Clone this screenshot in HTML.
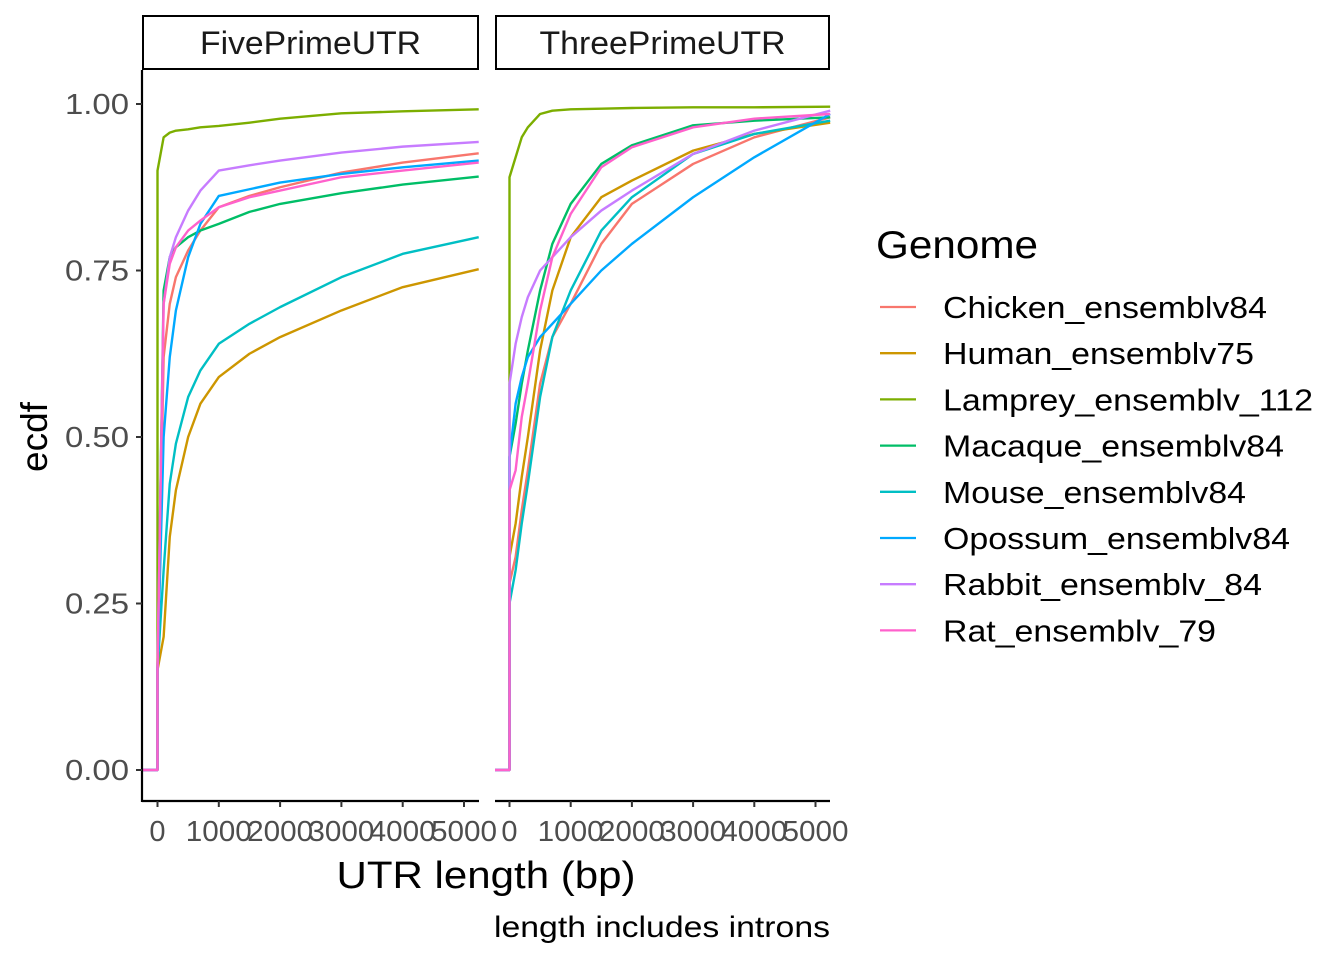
<!DOCTYPE html>
<html><head><meta charset="utf-8"><style>
body{margin:0;background:#fff}
svg text{font-family:"Liberation Sans",Arial,sans-serif}
</style></head><body>
<svg id="chart" width="1344" height="960" viewBox="0 0 1344 960" xmlns="http://www.w3.org/2000/svg"></svg>
<script>
const genomes=["Chicken_ensemblv84","Human_ensemblv75","Lamprey_ensemblv_112","Macaque_ensemblv84","Mouse_ensemblv84","Opossum_ensemblv84","Rabbit_ensemblv_84","Rat_ensemblv_79"];
const colors=["#F8766D","#CD9600","#7CAE00","#00BE67","#00BFC4","#00A9FF","#C77CFF","#FF61CC"];
const legendWidths=[324,311,370,341,303,347,319,273];
const xGrid=[0,100,200,300,500,700,1000,1500,2000,3000,4000,5240];
const xTicks=[0,1000,2000,3000,4000,5000];
const yTicks=[0,0.25,0.5,0.75,1];
const yTickLabels=["0.00","0.25","0.50","0.75","1.00"];
const fiveChicken=[0.15,0.62,0.70,0.74,0.78,0.81,0.845,0.862,0.875,0.897,0.912,0.926];
const fiveHuman=[0.15,0.20,0.35,0.42,0.50,0.55,0.59,0.625,0.65,0.69,0.725,0.752];
const fiveLamprey=[0.90,0.95,0.957,0.96,0.962,0.965,0.967,0.972,0.978,0.986,0.989,0.992];
const fiveMacaque=[0.15,0.72,0.77,0.785,0.80,0.81,0.82,0.838,0.85,0.866,0.879,0.891];
const fiveMouse=[0.15,0.30,0.43,0.49,0.56,0.60,0.64,0.67,0.695,0.74,0.775,0.80];
const fiveOpossum=[0.15,0.50,0.62,0.69,0.77,0.82,0.862,0.872,0.882,0.895,0.905,0.915];
const fiveRabbit=[0.15,0.70,0.77,0.80,0.84,0.87,0.90,0.908,0.915,0.927,0.936,0.943];
const fiveRat=[0.15,0.70,0.76,0.785,0.81,0.825,0.845,0.86,0.87,0.89,0.90,0.912];
const threeChicken=[0.28,0.32,0.39,0.45,0.58,0.65,0.70,0.79,0.85,0.91,0.95,0.98];
const threeHuman=[0.32,0.37,0.44,0.50,0.63,0.72,0.80,0.86,0.885,0.93,0.955,0.972];
const threeLamprey=[0.89,0.92,0.95,0.965,0.985,0.99,0.992,0.993,0.994,0.995,0.995,0.996];
const threeMacaque=[0.47,0.52,0.58,0.63,0.72,0.79,0.85,0.91,0.938,0.968,0.975,0.98];
const threeMouse=[0.25,0.30,0.37,0.43,0.56,0.65,0.72,0.81,0.86,0.925,0.955,0.975];
const threeOpossum=[0.47,0.55,0.59,0.62,0.65,0.67,0.70,0.75,0.79,0.86,0.92,0.985];
const threeRabbit=[0.58,0.64,0.68,0.71,0.75,0.77,0.80,0.84,0.87,0.925,0.96,0.99];
const threeRat=[0.42,0.45,0.53,0.58,0.69,0.77,0.835,0.905,0.935,0.965,0.978,0.985];
const fiveSeries=[fiveChicken,fiveHuman,fiveLamprey,fiveMacaque,fiveMouse,fiveOpossum,fiveRabbit,fiveRat];
const threeSeries=[threeChicken,threeHuman,threeLamprey,threeMacaque,threeMouse,threeOpossum,threeRabbit,threeRat];

const NS="http://www.w3.org/2000/svg";
const svg=document.getElementById('chart');
function mk(tag,attrs,parent){const e=document.createElementNS(NS,tag);for(const k in attrs)e.setAttribute(k,attrs[k]);(parent||svg).appendChild(e);return e;}
const y=v=>770-v*666;
const panels=[
 {name:"five-prime",title:"FivePrimeUTR",tw:221,left:142,right:479,x0:157.5,k:0.0613,data:fiveSeries},
 {name:"three-prime",title:"ThreePrimeUTR",tw:246,left:495,right:830,x0:509.5,k:0.0612,data:threeSeries}
];
panels.forEach(p=>{
 const g=mk('g',{});
 
 
 const xs=v=>p.x0+v*p.k;
 const strip=mk('rect',{x:p.left+1,y:16,width:p.right-p.left-2,height:53,fill:'#fff',stroke:'#000','stroke-width':2},g);
 
 
 const st=mk('text',{x:(p.left+p.right)/2,y:54,'text-anchor':'middle','font-size':32,fill:'#1a1a1a',textLength:p.tw,lengthAdjust:'spacingAndGlyphs'},g);
 st.textContent=p.title;
 
 
 p.data.forEach((vals,i)=>{
  let d=`M${p.left} ${y(0)} L${xs(0)} ${y(0)}`;
  xGrid.forEach((xv,j)=>{d+=` L${xs(xv)} ${y(vals[j])}`;});
  const path=mk('path',{d:d,fill:'none',stroke:colors[i],'stroke-width':2.4,'stroke-linejoin':'round'},g);
  
  
 });
 const ax=mk('line',{x1:p.left,x2:p.right,y1:801,y2:801,stroke:'#000','stroke-width':2.2},g);
 
 
 xTicks.forEach(t=>{
  mk('line',{x1:xs(t),x2:xs(t),y1:801,y2:807,stroke:'#333','stroke-width':2},g);
  const attrs={x:xs(t),y:841,'text-anchor':'middle','font-size':29,fill:'#4d4d4d'};
  if(t>=1000){attrs.textLength=66;attrs.lengthAdjust='spacingAndGlyphs';}
  const tl=mk('text',attrs,g);
  tl.textContent=t;
  
  
 });
});
const yax=mk('line',{x1:142,x2:142,y1:70,y2:802,stroke:'#000','stroke-width':2.2});


yTicks.forEach((t,i)=>{
 mk('line',{x1:136,x2:142,y1:y(t),y2:y(t),stroke:'#333','stroke-width':2});
 const tl=mk('text',{x:129,y:y(t)+10,'text-anchor':'end','font-size':29,fill:'#4d4d4d',textLength:64,lengthAdjust:'spacingAndGlyphs'});
 tl.textContent=yTickLabels[i];
 
 
});
const yt=mk('text',{x:47,y:437,'text-anchor':'middle','font-size':37,fill:'#000',transform:'rotate(-90 47 437)'});
yt.textContent='ecdf';


const xt=mk('text',{x:486,y:888,'text-anchor':'middle','font-size':38,fill:'#000',textLength:299,lengthAdjust:'spacingAndGlyphs'});
xt.textContent='UTR length (bp)';


const cap=mk('text',{x:830,y:937,'text-anchor':'end','font-size':30,fill:'#000',textLength:336,lengthAdjust:'spacingAndGlyphs'});
cap.textContent='length includes introns';


const lt=mk('text',{x:876,y:258,'font-size':39,fill:'#000',textLength:162,lengthAdjust:'spacingAndGlyphs'});
lt.textContent='Genome';


genomes.forEach((gname,i)=>{
 const ly=307+i*46.2;
 const lg=mk('g',{});
 
 
 mk('line',{x1:880,x2:916,y1:ly,y2:ly,stroke:colors[i],'stroke-width':2.3},lg);
 const tx=mk('text',{x:943,y:ly+11,'font-size':31,fill:'#000',textLength:legendWidths[i],lengthAdjust:'spacingAndGlyphs'},lg);
 tx.textContent=gname;
});
</script>
</body></html>
